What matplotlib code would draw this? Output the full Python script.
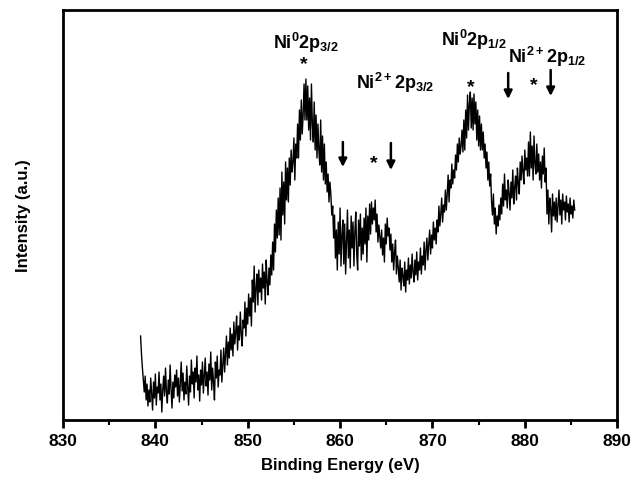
import numpy as np
import matplotlib
matplotlib.use("Agg")
import matplotlib.pyplot as plt
from matplotlib.ticker import MultipleLocator

plt.rcParams['font.family'] = ['Liberation Sans', 'DejaVu Sans']
plt.rcParams['font.weight'] = 'bold'
plt.rcParams['mathtext.default'] = 'regular'

# XPS Ni 2p spectrum (0.1 eV steps from 838.4 eV)
e_start = 838.4
e_step = 0.1
intensity = [
    84, 66, 52, 40, 28, 44, 20, 36, 14, 30,            # 838.4
    18, 42, 25, 10, 38, 22, 46, 15, 33, 27,
    48, 20, 36, 8, 30, 44, 24, 52, 28, 17,             # 840.4
    40, 26, 55, 31, 12, 38, 22, 45, 33, 50,
    24, 42, 18, 36, 58, 29, 47, 20, 38, 26,            # 842.4
    54, 33, 15, 44, 28, 60, 36, 48, 22, 52,
    38, 64, 30, 45, 19, 50, 35, 58, 27, 44,            # 844.4
    62, 34, 48, 25, 56, 40, 68, 30, 52, 38,
    20, 58, 42, 64, 33, 50, 45, 70, 38, 56,            # 846.4
    72, 48, 66, 84, 55, 78, 62, 92, 70, 86,
    64, 98, 76, 88, 104, 70, 94, 80, 108, 86,          # 848.4
    74, 100, 92, 118, 84, 112, 96, 126, 104, 122,
    94, 140, 118, 154, 108, 132, 146, 115, 150, 128,   # 850.4
    142, 120, 156, 132, 148, 116, 160, 138, 125, 152,
    135, 165, 145, 178, 150, 196, 168, 210, 182, 222,  # 852.4
    185, 232, 180, 248, 205, 238, 196, 258, 220, 252,
    218, 262, 235, 270, 248, 258, 282, 240, 276, 262,  # 854.4
    296, 262, 310, 280, 320, 286, 305, 336, 300, 341,
    300, 334, 290, 322, 280, 336, 296, 278, 318, 270,  # 856.4
    305, 262, 296, 270, 255, 300, 248, 284, 240, 276,
    236, 258, 228, 246, 218, 238, 226, 205, 214, 182,  # 858.4
    205, 162, 190, 150, 198, 166, 212, 154, 184, 200,
    156, 196, 146, 180, 210, 162, 190, 152, 204, 172,  # 860.4
    198, 154, 188, 208, 166, 150, 200, 174, 206, 160,
    192, 166, 202, 176, 212, 158, 204, 180, 216, 186,  # 862.4
    218, 196, 212, 200, 220, 188, 206, 178, 195, 184,
    172, 190, 165, 182, 158, 196, 176, 202, 184, 192,  # 864.4
    170, 186, 158, 176, 150, 168, 180, 146, 164, 152,
    138, 160, 130, 152, 144, 134, 158, 128, 150, 140,  # 866.4
    162, 136, 155, 142, 166, 148, 138, 160, 145, 168,
    140, 158, 150, 172, 146, 164, 155, 178, 150, 170,  # 868.4
    182, 160, 176, 190, 166, 185, 172, 198, 180, 192,
    176, 200, 188, 214, 194, 206, 222, 198, 215, 208,  # 870.4
    230, 210, 226, 245, 218, 240, 232, 256, 236, 250,
    242, 265, 250, 276, 258, 282, 266, 274, 290, 268,  # 872.4
    300, 270, 310, 282, 325, 290, 316, 328, 292, 322,
    290, 326, 296, 318, 280, 310, 274, 304, 270, 296,  # 874.4
    270, 288, 262, 276, 252, 268, 240, 258, 234, 246,
    218, 205, 226, 196, 212, 186, 204, 194, 215, 200,  # 876.4
    222, 206, 236, 214, 246, 220, 230, 212, 240, 226,
    210, 238, 222, 250, 216, 232, 244, 220, 252, 236,  # 878.4
    226, 258, 240, 264, 248, 236, 270, 250, 262, 244,
    278, 244, 288, 252, 274, 240, 284, 256, 246, 276,  # 880.4
    248, 266, 240, 258, 232, 264, 246, 272, 238, 252,
    206, 230, 196, 222, 212, 188, 226, 204, 218, 200,  # 882.4
    222, 198, 214, 230, 205, 220, 196, 226, 210, 218,
    200, 224, 208, 216, 198, 222, 206, 214, 202, 220,  # 884.4
    210,
]
energy = e_start + e_step * np.arange(len(intensity))

# peak labels: (text, x, y)
labels = [
    (r'Ni$^{0}$2p$_{3/2}$', 856.3, 378),
    (r'Ni$^{2+}$2p$_{3/2}$', 866.0, 338),
    (r'Ni$^{0}$2p$_{1/2}$', 874.5, 381),
    (r'Ni$^{2+}$2p$_{1/2}$', 882.4, 364),
]
stars = [(856.1, 356), (863.6, 257), (874.2, 333), (881.0, 335)]
arrows = [(860.3, 278, 253), (865.5, 277, 250), (878.2, 347, 321), (882.8, 350, 324)]

fig = plt.figure(figsize=(6.33, 4.89), dpi=100)
ax = fig.add_axes([0.0995, 0.139, 0.8755, 0.8385])

ax.plot(energy, intensity, color='black', lw=1.0)

for txt, x, y in labels:
    ax.text(x, y, txt, ha='center', va='center', fontsize=13, fontweight='bold')
for x, y in stars:
    ax.text(x, y, '*', ha='center', va='center', fontsize=14, fontweight='bold')
for x, y0, y1 in arrows:
    ax.annotate('', xy=(x, y1), xytext=(x, y0),
                arrowprops=dict(arrowstyle='-|>', color='black', lw=1.8,
                                mutation_scale=12, shrinkA=0, shrinkB=0))

ax.set_xlim(830, 890)
ax.set_ylim(0, 410)
ax.xaxis.set_major_locator(MultipleLocator(10))
ax.xaxis.set_minor_locator(MultipleLocator(5))
ax.set_yticks([])
ax.tick_params(axis='x', which='major', direction='out', length=6, width=2,
               labelsize=12.5, pad=3)
ax.tick_params(axis='x', which='minor', direction='out', length=3.5, width=1.5)
for sp in ax.spines.values():
    sp.set_linewidth(2)

ax.set_xlabel('Binding Energy (eV)', fontsize=12, fontweight='bold', labelpad=7)
ax.set_ylabel('Intensity (a.u.)', fontsize=12, fontweight='bold', labelpad=23)

fig.savefig('out.png', dpi=100)
